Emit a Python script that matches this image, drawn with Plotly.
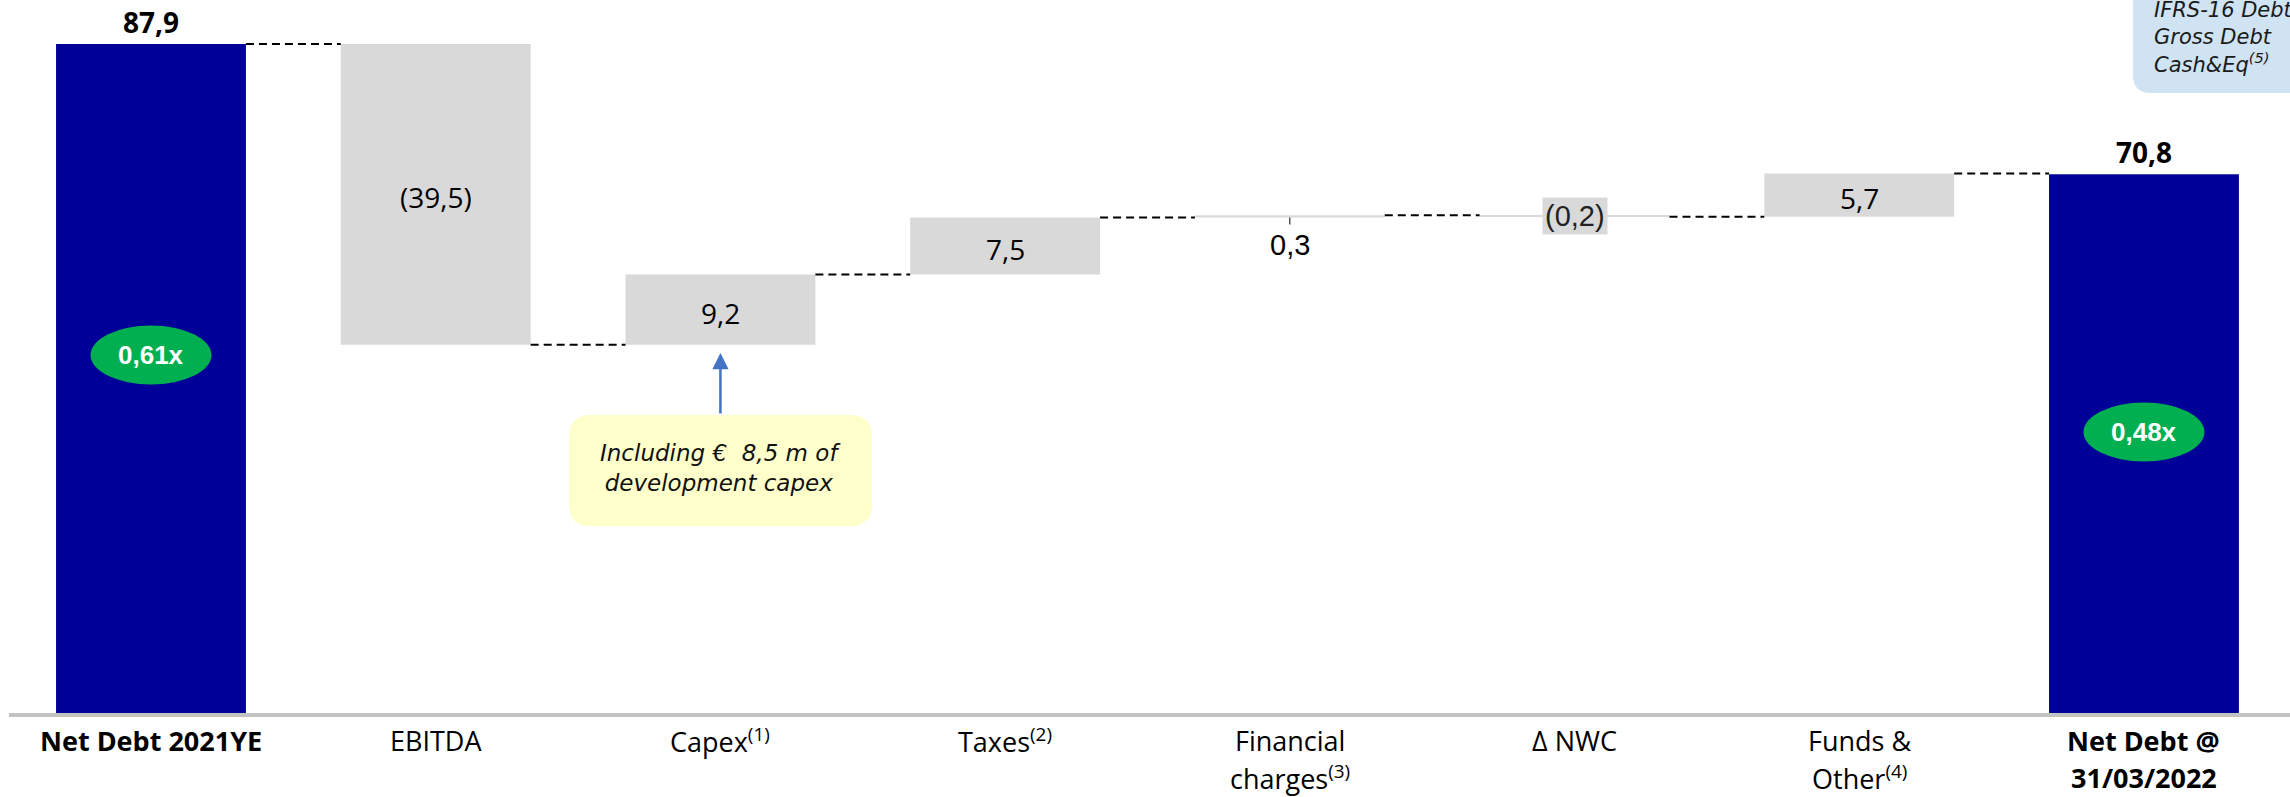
import plotly.graph_objects as go

# ---------------- data ----------------
categories = ["Net Debt 2021YE", "EBITDA", "Capex<sup>(1)</sup>", "Taxes<sup>(2)</sup>",
              "Financial<br>charges<sup>(3)</sup>", "Δ NWC", "Funds &<br>Other<sup>(4)</sup>",
              "Net Debt @<br>31/03/2022"]
start_total = 87.9
deltas = [-39.5, 9.2, 7.5, 0.3, -0.2, 5.7]
end_total = 70.8
value_labels = ["87,9", "(39,5)", "9,2", "7,5", "0,3", "(0,2)", "5,7", "70,8"]
leverage_labels = ["0,61x", "0,48x"]
callout_lines = ["Including €  8,5 m of", "development capex"]
box_lines = ["IFRS-16 Debt", "Gross Debt", "Cash&Eq<sup>(5)</sup>"]

# ---------------- styles / layout constants ----------------
W, H = 2290, 797
PLOT_H = 720
K = 669 / 87.9          # px per unit
ZERO_PX = 713
STEP = 284.71           # px per category
X0_PX = 151
BAR_W = 0.667
BLUE = "#000099"
GRAY = "#d9d9d9"
GREEN = "#00b050"
FONT = "Open Sans"
ARIAL = "Liberation Sans"
ITAL = "DejaVu Sans"
placements = ["above", "inside", "inside", "inside", "below", "boxed", "inside", "above"]
bold_idx = {0, len(categories) - 1}


def PX(p):
    return p / W


def PY(p):
    return 1 - p / PLOT_H


def rrect(x0, y0, x1, y1, r):
    return (f"M {PX(x0+r)},{PY(y0)} L {PX(x1-r)},{PY(y0)} Q {PX(x1)},{PY(y0)} {PX(x1)},{PY(y0+r)} "
            f"L {PX(x1)},{PY(y1-r)} Q {PX(x1)},{PY(y1)} {PX(x1-r)},{PY(y1)} "
            f"L {PX(x0+r)},{PY(y1)} Q {PX(x0)},{PY(y1)} {PX(x0)},{PY(y1-r)} "
            f"L {PX(x0)},{PY(y0+r)} Q {PX(x0)},{PY(y0)} {PX(x0+r)},{PY(y0)} Z")


# ---------------- waterfall geometry ----------------
n = len(categories)
xs = list(range(n))
bases = [0]
heights = [start_total]
colors = [BLUE]
levels = [start_total]
run = start_total
for d in deltas:
    bases.append(run)
    heights.append(d)
    colors.append(GRAY)
    run += d
    levels.append(run)
bases.append(0)
heights.append(end_total)
colors.append(BLUE)
levels.append(end_total)

fig = go.Figure(go.Bar(x=xs, y=heights, base=bases, width=BAR_W,
                       marker=dict(color=colors, line=dict(width=0)),
                       hoverinfo="skip"))

shapes = []
annotations = []

# connectors
for i in range(n - 1):
    shapes.append(dict(type="line", xref="x", yref="y",
                       x0=i + BAR_W / 2, x1=i + 1 - BAR_W / 2,
                       y0=levels[i], y1=levels[i],
                       line=dict(color="black", width=2, dash="8px,5px")))

# axis baseline
shapes.append(dict(type="line", xref="paper", yref="y", x0=PX(9), x1=1,
                   y0=-2 / K, y1=-2 / K, line=dict(color="#c3c3c3", width=4)))

# value labels
for i, (lab, pl) in enumerate(zip(value_labels, placements)):
    lo = min(bases[i], bases[i] + heights[i])
    hi = max(bases[i], bases[i] + heights[i])
    if pl == "above":
        annotations.append(dict(x=i, y=hi, xref="x", yref="y", text=f"<b>{lab}</b>",
                                showarrow=False, yanchor="middle", yshift=22,
                                font=dict(family=FONT, size=28, color="black")))
    elif pl == "inside":
        annotations.append(dict(x=i, y=(lo + hi) / 2, xref="x", yref="y", text=lab,
                                showarrow=False, yanchor="middle", yshift=-3,
                                font=dict(family=FONT, size=28, color="black")))
    elif pl == "below":
        shapes.append(dict(type="line", xref="x", yref="y", x0=i, x1=i,
                           y0=lo, y1=lo - 7 / K, line=dict(color="black", width=1)))
        annotations.append(dict(x=i, y=lo, xref="x", yref="y", text=lab,
                                showarrow=False, yanchor="middle", yshift=-27,
                                font=dict(family=ARIAL, size=29, color="black")))
    elif pl == "boxed":
        annotations.append(dict(x=i, y=(lo + hi) / 2, xref="x", yref="y", text=lab,
                                showarrow=False, yanchor="middle", bgcolor=GRAY, borderpad=2,
                                font=dict(family=ARIAL, size=29, color="#222222")))

# leverage ellipses
ell_centers = [(0, 355), (n - 1, 432)]
for (i, cy), lab in zip(ell_centers, leverage_labels):
    hw = 60.5 / STEP
    shapes.append(dict(type="circle", xref="x", yref="paper", x0=i - hw, x1=i + hw,
                       y0=PY(cy + 29.5), y1=PY(cy - 29.5), fillcolor=GREEN,
                       line=dict(width=0)))
    annotations.append(dict(x=i, y=PY(cy), xref="x", yref="paper", text=f"<b>{lab}</b>",
                            showarrow=False, yanchor="middle",
                            font=dict(family=ARIAL, size=26, color="white")))

# category labels
for i, cat in enumerate(categories):
    for k, line in enumerate(cat.split("<br>")):
        txt = f"<b>{line}</b>" if i in bold_idx else line
        annotations.append(dict(x=i, y=0, xref="x", yref="paper", text=txt,
                                showarrow=False, yanchor="middle",
                                yshift=-(740 - PLOT_H) - 37 * k,
                                font=dict(family=FONT, size=27, color="black")))

# callout box + arrow
shapes.append(dict(type="path", xref="paper", yref="paper",
                   path=rrect(569, 415, 872, 526, 22), fillcolor="#ffffcc",
                   line=dict(width=0), layer="above"))
annotations.append(dict(x=PX(720.5), y=PY(468), xref="paper", yref="paper",
                        text="<i>" + "<br>".join(callout_lines) + "</i>",
                        showarrow=False, xanchor="center", yanchor="middle", align="center",
                        font=dict(family=ITAL, size=23, color="#111111")))
annotations.append(dict(x=2, y=(ZERO_PX - 353) / K, xref="x", yref="y", text="",
                        showarrow=True, ax=0, ay=62, arrowcolor="#4472c4",
                        arrowwidth=2.5, arrowhead=2, arrowsize=1.3, standoff=0))

# top-right legend box
shapes.append(dict(type="path", xref="paper", yref="paper",
                   path=rrect(2133, -40, 2340, 93, 18), fillcolor="#cfe3f3",
                   line=dict(width=0)))
annotations.append(dict(x=PX(2152), y=PY(37), xref="paper", yref="paper",
                        text="<i>" + "<br>".join(box_lines) + "</i>",
                        showarrow=False, xanchor="left", yanchor="middle", align="left",
                        font=dict(family=ITAL, size=21, color="#1a1a1a")))

fig.update_layout(
    width=W, height=H,
    margin=dict(l=0, r=0, t=0, b=H - PLOT_H),
    paper_bgcolor="white", plot_bgcolor="white",
    showlegend=False,
    xaxis=dict(range=[-X0_PX / STEP, (W - X0_PX) / STEP], showgrid=False, zeroline=False,
               showticklabels=False, showline=False, fixedrange=True),
    yaxis=dict(range=[-(PLOT_H - ZERO_PX) / K, ZERO_PX / K], showgrid=False, zeroline=False,
               showticklabels=False, showline=False, fixedrange=True),
    shapes=shapes,
    annotations=annotations,
)

fig.write_html("out.html")
